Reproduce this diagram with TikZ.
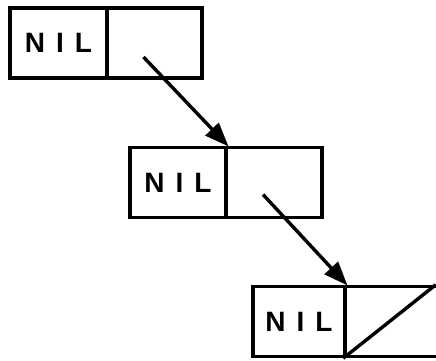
\documentclass[tikz,border=0pt]{standalone}
\usepackage{fontspec}
\setmainfont{Liberation Sans}
\usetikzlibrary{arrows.meta}
\tikzset{
  cell/.style={draw, line width=3.6pt, minimum height=70pt, inner sep=0pt, font=\fontsize{28}{28}\selectfont\bfseries},
  link/.style={line width=3.4pt, -{Triangle[length=24pt,width=18pt]}, shorten >=-1pt}
}
\newcommand{\nilword}{N\hspace{11pt}I\hspace{11pt}L}
\begin{document}
\begin{tikzpicture}[x=1pt,y=-1pt]
\useasboundingbox (0,0) rectangle (436,360);
\clip (0,0) rectangle (436,360);
% box 1
\node[cell, minimum width=97pt] (b1l) at (58.5,43) {\nilword};
\node[cell, minimum width=95pt] (b1r) at (154.5,43) {};
% box 2
\node[cell, minimum width=96pt] (b2l) at (178,182.5) {\nilword};
\node[cell, minimum width=96pt] (b2r) at (274,182.5) {};
% box 3
\node[cell, minimum width=92pt] (b3l) at (299,321.5) {\nilword};
\node[cell, minimum width=95pt] (b3r) at (392.5,321.5) {};
\draw[line width=3.4pt] (b3r.south west) -- ([xshift=-6pt]b3r.north east);
% links
\coordinate (s1) at ([xshift=-11pt,yshift=-14pt]b1r.center);
\coordinate (s2) at ([xshift=-11pt,yshift=-12pt]b2r.center);
\draw[link] (s1) -- (b2l.north east);
\draw[link] (s2) -- (b3l.north east);
\end{tikzpicture}
\end{document}
